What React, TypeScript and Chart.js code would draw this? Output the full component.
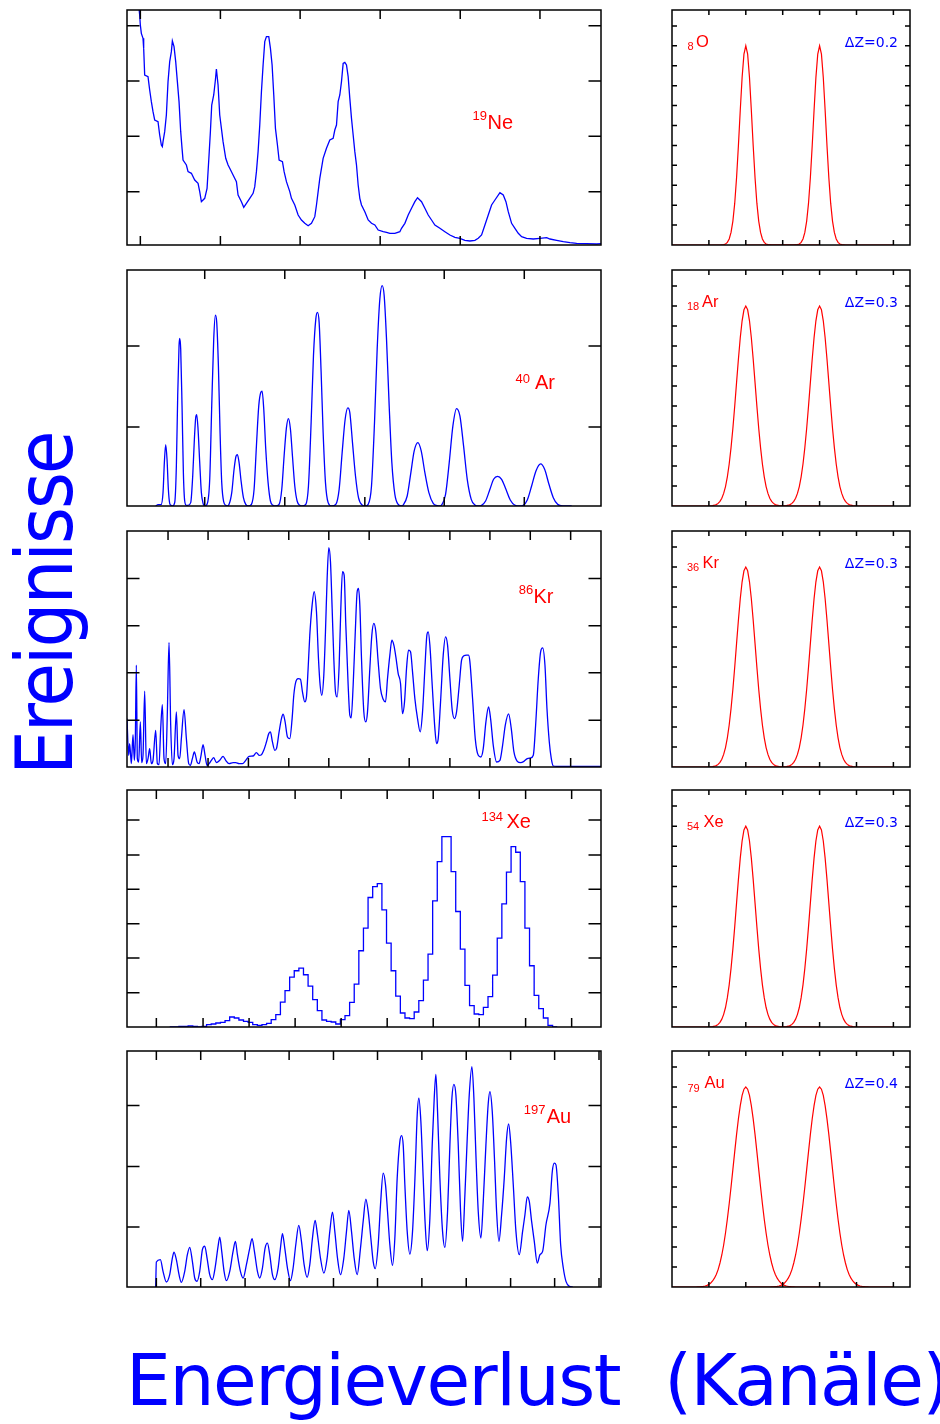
import React, { useEffect, useRef } from "react";
import { Chart, registerables } from "chart.js";

Chart.register(...registerables);

const BLUE = "#0000ff";
const RED = "#ff0000";
const SANS = '"Liberation Sans", Arial, sans-serif';

// ---------------- left spectra (channel, counts) ----------------
const neSpectrum: number[][] = [
  [55,740],[60,690],[62,660],[65,635],[70,620],[72,590],[75,510],[85,505],[90,465],[95,430],[100,400],[105,375],[115,370],[120,330],[125,300],[128,295],[130,310],[135,340],[140,390],[145,490],[150,550],[155,580],[158,612],[163,595],[168,550],[173,490],[178,430],[183,340],[187,290],[190,255],[200,240],[205,220],[215,215],[225,195],[235,185],[240,160],[245,130],[255,140],[262,170],[268,270],[272,340],[276,420],[282,450],[287,495],[290,528],[295,480],[300,390],[305,350],[310,310],[318,260],[325,240],[330,230],[340,210],[350,190],[355,150],[365,130],[372,113],[380,125],[390,140],[400,155],[405,175],[410,220],[415,280],[420,360],[425,460],[430,540],[435,610],[440,625],[447,625],[452,590],[457,540],[462,450],[467,350],[473,300],[478,255],[488,250],[493,220],[500,190],[510,160],[515,140],[525,120],[535,90],[545,75],[555,65],[565,58],[575,65],[585,85],[590,120],[595,160],[600,200],[610,260],[620,290],[630,315],[640,320],[645,345],[650,360],[655,430],[660,450],[665,490],[670,545],[675,548],[680,540],[685,505],[690,440],[695,380],[700,330],[705,280],[710,240],[715,180],[720,140],[725,120],[735,100],[745,75],[755,65],[765,60],[775,45],[790,40],[800,38],[810,35],[825,35],[840,40],[845,50],[855,65],[865,90],[875,110],[885,130],[893,142],[905,130],[915,110],[925,90],[935,75],[945,60],[960,50],[975,40],[990,30],[1005,23],[1020,20],[1035,14],[1050,12],[1065,14],[1075,20],[1085,30],[1095,60],[1105,90],[1115,120],[1125,135],[1140,157],[1150,150],[1158,130],[1165,100],[1175,65],[1185,50],[1195,35],[1205,25],[1220,20],[1240,18],[1260,20],[1280,22],[1290,18],[1310,14],[1330,10],[1350,7],[1370,5],[1400,4],[1430,3],[1443,4]
];
const neXTicks = [62, 302, 541, 781, 1021, 1260];
const neYTicks = [160, 326, 492, 658];

const arSpectrum: number[][] = [
  [108,0],[115,4],[124,4],[130,40],[134,130],[138,184],[142,140],[146,50],[150,8],[154,2],[158,0],
  [165,10],[170,120],[174,330],[178,480],[180,502],[183,470],[187,300],[191,100],[195,15],[200,2],[205,2],
  [213,10],[219,90],[224,200],[228,265],[231,274],[235,230],[240,130],[245,40],[250,8],[255,0],
  [262,5],[270,80],[276,300],[282,500],[287,572],[291,550],[296,420],[301,220],[306,70],[312,12],[318,2],[322,0],
  [328,5],[336,40],[343,110],[349,150],[353,154],[358,130],[364,75],[371,25],[378,5],[386,0],
  [395,5],[403,50],[410,180],[417,300],[423,340],[427,344],[432,290],[438,170],[445,70],[452,15],[460,2],[467,0],
  [478,5],[486,50],[493,150],[500,235],[506,262],[512,230],[518,150],[525,60],[532,15],[540,2],[547,0],
  [558,5],[566,60],[574,250],[581,450],[588,560],[593,580],[598,550],[604,400],[610,220],[617,70],[625,10],[635,0],
  [648,5],[658,50],[667,160],[676,260],[684,294],[690,280],[698,190],[707,90],[716,25],[727,3],[737,0],
  [745,5],[755,60],[764,250],[772,470],[780,620],[787,660],[793,630],[800,500],[808,300],[816,130],[825,35],[835,5],[845,0],
  [850,3],[862,30],[873,100],[883,165],[894,190],[904,165],[915,100],[927,40],[940,8],[952,1],[960,0],
  [965,3],[977,35],[988,130],[999,240],[1010,292],[1020,270],[1031,180],[1042,80],[1054,20],[1065,3],[1075,0],
  [1085,2],[1097,15],[1110,50],[1121,80],[1133,89],[1145,80],[1158,50],[1171,18],[1184,3],[1200,0],
  [1210,2],[1222,18],[1235,60],[1248,105],[1262,126],[1274,110],[1287,65],[1300,25],[1313,5],[1328,0],[1355,0]
];
const arXTicks = [255, 495, 735, 973, 1213];
const arYTicks = [237, 479];

const krSpectrum: number[][] = [
  [22,145],[27,35],[30,70],[35,10],[40,97],[44,20],[47,85],[50,305],[53,25],[57,15],[62,135],[66,13],[70,35],[75,227],[80,10],[85,25],[90,55],[95,10],[100,20],[108,110],[113,10],[118,7],[123,115],[128,187],[133,25],[138,10],[143,165],[148,373],[153,125],[158,7],[163,25],[170,165],[175,35],[180,25],[185,85],[193,172],[200,85],[207,10],[212,5],[218,25],[224,45],[232,15],[238,10],[244,35],[250,67],[256,35],[262,5],[268,10],[275,20],[282,28],[290,13],[300,20],[310,32],[318,20],[328,10],[340,13],[348,13],[358,10],[368,10],[378,20],[388,32],[400,33],[410,43],[418,35],[425,37],[432,50],[440,75],[447,100],[452,105],[458,75],[465,50],[470,55],[478,105],[485,145],[490,158],[496,135],[503,90],[510,85],[517,145],[522,215],[528,255],[535,265],[542,263],[548,225],[555,195],[560,210],[565,295],[570,395],[577,485],[583,525],[590,465],[596,325],[601,245],[606,215],[612,275],[617,405],[622,565],[627,657],[632,615],[637,475],[642,325],[647,225],[652,210],[658,305],[663,475],[668,585],[673,575],[678,425],[685,245],[690,155],[694,147],[700,245],[706,395],[712,525],[716,535],[720,485],[725,325],[732,165],[738,135],[743,165],[750,295],[756,395],[762,430],[768,405],[775,315],[782,235],[790,203],[797,195],[803,265],[810,335],[816,380],[822,365],[828,330],[835,280],[842,250],[848,160],[854,195],[860,295],[866,350],[872,345],[878,285],[885,205],[893,145],[901,105],[908,165],[915,295],[921,395],[925,405],[930,365],[937,245],[945,115],[950,70],[955,85],[962,195],[970,335],[977,390],[983,365],[990,265],[997,170],[1004,145],[1010,165],[1018,245],[1025,320],[1032,333],[1040,335],[1046,335],[1050,315],[1058,205],[1066,85],[1075,35],[1083,30],[1090,55],[1098,135],[1106,180],[1112,145],[1120,65],[1130,15],[1140,20],[1148,65],[1156,125],[1166,159],[1174,115],[1182,45],[1192,17],[1202,13],[1212,17],[1222,25],[1232,27],[1240,35],[1247,125],[1255,265],[1262,345],[1268,357],[1275,305],[1281,175],[1288,75],[1294,25],[1300,3],[1310,2],[1443,2]
];
const krXTicks = [145, 265, 386, 507, 627, 748, 868, 990, 1110, 1231, 1352];
const krYTicks = [140, 282, 423, 565];

const xeBinStart = 150;
const xeBinWidth = 13.83;
const xeCounts = [
  0,0,2,2,3,2,0,2,7,9,12,14,19,30,27,21,17,14,7,5,7,11,22,37,75,109,150,169,177,157,123,82,49,21,17,15,9,22,34,74,129,229,297,389,422,431,352,252,169,93,42,27,25,45,79,141,219,379,497,572,572,467,347,234,125,64,39,37,59,91,156,267,370,465,542,525,437,297,184,95,55,27,5,0
];
const xeXTicks = [110, 250, 388, 526, 664, 802, 940, 1078, 1217, 1355];
const xeYTicks = [103, 207, 310, 414, 517, 622];

const auSpectrum: number[][] = [
  [108,0],[110,75],[122,82],[130,47],[140,15],[150,37],[158,87],[163,105],[170,82],[178,37],[185,14],[195,47],[203,97],[210,119],[218,77],[225,27],[232,17],[240,47],[248,112],[255,123],[262,87],[270,37],[278,22],[286,57],[295,122],[300,150],[306,107],[313,47],[320,19],[330,47],[340,107],[347,137],[353,97],[362,47],[370,27],[380,67],[390,117],[397,145],[404,107],[413,47],[420,27],[428,57],[436,117],[443,132],[450,97],[458,37],[465,22],[475,57],[482,117],[488,160],[495,117],[503,57],[512,19],[520,57],[528,127],[537,185],[545,137],[553,67],[562,29],[570,67],[578,147],[586,200],[593,157],[602,87],[612,42],[622,87],[630,167],[638,225],[645,167],[653,87],[662,37],[672,87],[680,167],[687,230],[695,167],[703,87],[712,37],[722,117],[730,197],[738,264],[745,227],[753,147],[760,77],[766,55],[775,127],[782,247],[790,342],[797,307],[803,227],[810,127],[818,65],[825,147],[832,327],[840,437],[845,455],[850,427],[855,307],[862,167],[870,99],[878,167],[886,347],[892,517],[897,567],[903,497],[910,327],[916,187],[922,109],[930,207],[937,427],[943,567],[948,639],[953,527],[960,327],[968,167],[975,119],[983,227],[990,427],[996,567],[1002,609],[1008,577],[1015,427],[1022,227],[1028,137],[1035,277],[1042,447],[1048,577],[1056,662],[1062,567],[1068,397],[1075,227],[1083,147],[1090,257],[1098,427],[1105,552],[1110,587],[1117,527],[1124,377],[1130,227],[1137,137],[1145,217],[1153,327],[1160,447],[1166,490],[1172,437],[1180,307],[1188,167],[1198,97],[1208,167],[1215,217],[1222,271],[1228,257],[1235,197],[1243,137],[1252,72],[1260,97],[1268,107],[1278,187],[1290,252],[1297,347],[1303,372],[1308,367],[1315,277],[1322,127],[1330,57],[1338,17],[1348,2],[1358,0]
];
const auXTicks = [110, 243, 376, 508, 641, 773, 906, 1039, 1172, 1304, 1437];
const auYTicks = [180, 362, 545];

// ---------------- right panels: peak profiles (offset step 0.05 Z) ----------------
const profileStep = 0.05;
const profileDZ02 = [10, 9.58, 8.41, 6.77, 5.0, 3.39, 2.1, 1.2, 0.63, 0.3, 0.13, 0.05, 0.02, 0.01, 0];
const profileDZ03 = [10, 9.81, 9.26, 8.41, 7.35, 6.18, 5.0, 3.89, 2.92, 2.1, 1.46, 0.97, 0.63, 0.39, 0.23, 0.13, 0.07, 0.04, 0.02, 0.01, 0];
const profileDZ04 = [10, 9.89, 9.58, 9.07, 8.41, 7.63, 6.77, 5.88, 5.0, 4.16, 3.39, 2.7, 2.1, 1.6, 1.2, 0.87, 0.63, 0.44, 0.3, 0.2, 0.13, 0.08, 0.05, 0.03, 0.02, 0.01, 0.01, 0];
const peakCentres = [2, 4];
const zXTicks = [1, 2, 3, 4, 5, 6];
const zYTicks = [1, 2, 3, 4, 5, 6, 7, 8, 9, 10, 11];

const leftIsotopes = [
  { sup: "19", main: "Ne" },
  { sup: "40", main: "Ar" },
  { sup: "86", main: "Kr" },
  { sup: "134", main: "Xe" },
  { sup: "197", main: "Au" },
];
const rightElements = [
  { sub: "8", main: "O", dz: "ΔZ=0.2" },
  { sub: "18", main: "Ar", dz: "ΔZ=0.3" },
  { sub: "36", main: "Kr", dz: "ΔZ=0.3" },
  { sub: "54", main: "Xe", dz: "ΔZ=0.3" },
  { sub: "79", main: "Au", dz: "ΔZ=0.4" },
];
const rightProfiles = [profileDZ02, profileDZ03, profileDZ03, profileDZ03, profileDZ04];

// ---------------- layout ----------------
const LEFT_X = 127;
const LEFT_W = 474;
const RIGHT_X = 672;
const RIGHT_W = 238;
const ROW_TOP = [10, 270, 531, 790, 1051];
const ROW_H = [235, 236, 236, 237, 236];
const PAD = 2;

type TextSpec = { text: string; font: string; color: string; dx: number; dy: number; align?: CanvasTextAlign };
type PanelSpec = {
  left: number; top: number; width: number; height: number;
  xMin: number; xMax: number; yMin: number; yMax: number;
  xTicks: number[]; yTicks: number[]; xLen: number; yLen: number;
  datasets: any[]; texts: TextSpec[];
};

const toPoints = (pairs: number[][]) => pairs.map(([x, y]) => ({ x, y }));
const histPoints = (start: number, width: number, counts: number[]) => {
  const pts = counts.map((c, k) => ({ x: start + k * width, y: c }));
  pts.push({ x: start + counts.length * width, y: 0 });
  return pts;
};
const peakPoints = (profile: number[], centre: number) => {
  const pts: { x: number; y: number }[] = [];
  const n = 40;
  for (let i = -n; i <= n; i++) {
    const v = profile[Math.abs(i)] ?? 0;
    pts.push({ x: +(centre + i * profileStep).toFixed(3), y: v });
  }
  return pts;
};

const blueLine = (data: any[], extra: any = {}) => ({
  data, borderColor: BLUE, borderWidth: 1.3, pointRadius: 0, fill: false, ...extra,
});

const leftLabelPos = [
  { sx: 345.5, sy: 110.3, mx: 360.5, my: 119.3 },
  { sx: 388.4, sy: 113.3, mx: 408, my: 119.3 },
  { sx: 391.7, sy: 63.3, mx: 406.5, my: 72.3 },
  { sx: 354.4, sy: 31, mx: 379.5, my: 37.7 },
  { sx: 396.7, sy: 63, mx: 419.7, my: 72.3 },
];

const leftData = [
  { ds: blueLine(toPoints(neSpectrum)), xt: neXTicks, yt: neYTicks, yMax: 705 },
  { ds: blueLine(toPoints(arSpectrum), { cubicInterpolationMode: "monotone" }), xt: arXTicks, yt: arYTicks, yMax: 707 },
  { ds: blueLine(toPoints(krSpectrum), { cubicInterpolationMode: "monotone" }), xt: krXTicks, yt: krYTicks, yMax: 707 },
  { ds: blueLine(histPoints(xeBinStart, xeBinWidth, xeCounts), { stepped: true }), xt: xeXTicks, yt: xeYTicks, yMax: 712 },
  { ds: blueLine(toPoints(auSpectrum), { cubicInterpolationMode: "monotone" }), xt: auXTicks, yt: auYTicks, yMax: 709 },
];

const LEFT_SPECS: PanelSpec[] = leftData.map((d, r) => ({
  left: LEFT_X, top: ROW_TOP[r], width: LEFT_W, height: ROW_H[r],
  xMin: 22, xMax: 1443, yMin: 0, yMax: d.yMax,
  xTicks: d.xt, yTicks: d.yt, xLen: 9, yLen: 12.5,
  datasets: [d.ds],
  texts: [
    { text: leftIsotopes[r].sup, font: `13px ${SANS}`, color: RED, dx: leftLabelPos[r].sx, dy: leftLabelPos[r].sy },
    { text: leftIsotopes[r].main, font: `20px ${SANS}`, color: RED, dx: leftLabelPos[r].mx, dy: leftLabelPos[r].my },
  ],
}));

const rightLabelPos = [
  { sx: 15.5, sy: 39.8, mx: 24, my: 36.6 },
  { sx: 15, sy: 40.3, mx: 30, my: 36.6 },
  { sx: 15, sy: 40.3, mx: 30.5, my: 36.6 },
  { sx: 15, sy: 40.3, mx: 31.5, my: 36.6 },
  { sx: 15.5, sy: 40.5, mx: 32.5, my: 37 },
];

const RIGHT_SPECS: PanelSpec[] = rightElements.map((el, r) => ({
  left: RIGHT_X, top: ROW_TOP[r], width: RIGHT_W, height: ROW_H[r],
  xMin: 0, xMax: 6.45, yMin: 0, yMax: 11.8,
  xTicks: zXTicks, yTicks: zYTicks, xLen: 5, yLen: 5,
  datasets: peakCentres.map((c) => ({
    data: peakPoints(rightProfiles[r], c), borderColor: RED, borderWidth: 1.2, pointRadius: 0, fill: false,
  })),
  texts: [
    { text: el.sub, font: `11px ${SANS}`, color: RED, dx: rightLabelPos[r].sx, dy: rightLabelPos[r].sy },
    { text: el.main, font: `16.5px ${SANS}`, color: RED, dx: rightLabelPos[r].mx, dy: rightLabelPos[r].my },
    { text: el.dz, font: '14px "DejaVu Sans", sans-serif', color: BLUE, dx: 226, dy: 36.7, align: "right" },
  ],
}));

function ChartPanel({ spec }: { spec: PanelSpec }) {
  const ref = useRef<HTMLCanvasElement>(null);
  useEffect(() => {
    const framePlugin = {
      id: "frameTicks",
      afterDatasetsDraw(chart: any) {
        const { ctx, chartArea: a, scales } = chart;
        const x = scales.x, y = scales.y;
        ctx.save();
        ctx.strokeStyle = "#000";
        ctx.lineWidth = 1.5;
        ctx.strokeRect(a.left, a.top, a.right - a.left, a.bottom - a.top);
        ctx.beginPath();
        for (const v of spec.xTicks) {
          const px = x.getPixelForValue(v);
          ctx.moveTo(px, a.top); ctx.lineTo(px, a.top + spec.xLen);
          ctx.moveTo(px, a.bottom); ctx.lineTo(px, a.bottom - spec.xLen);
        }
        for (const v of spec.yTicks) {
          const py = y.getPixelForValue(v);
          ctx.moveTo(a.left, py); ctx.lineTo(a.left + spec.yLen, py);
          ctx.moveTo(a.right, py); ctx.lineTo(a.right - spec.yLen, py);
        }
        ctx.stroke();
        for (const t of spec.texts) {
          ctx.font = t.font;
          ctx.fillStyle = t.color;
          ctx.textAlign = t.align || "left";
          ctx.textBaseline = "alphabetic";
          ctx.fillText(t.text, a.left + t.dx, a.top + t.dy);
        }
        ctx.restore();
      },
    };
    const chart = new Chart(ref.current as HTMLCanvasElement, {
      type: "line",
      data: { datasets: spec.datasets },
      options: {
        responsive: false,
        animation: false,
        events: [],
        layout: { padding: PAD },
        plugins: { legend: { display: false }, tooltip: { enabled: false } },
        scales: {
          x: { type: "linear", min: spec.xMin, max: spec.xMax, display: false },
          y: { type: "linear", min: spec.yMin, max: spec.yMax, display: false },
        },
      } as any,
      plugins: [framePlugin as any],
    });
    return () => chart.destroy();
  }, [spec]);
  return (
    <canvas
      ref={ref}
      width={spec.width + 2 * PAD}
      height={spec.height + 2 * PAD}
      style={{ position: "absolute", left: spec.left - PAD, top: spec.top - PAD, width: spec.width + 2 * PAD, height: spec.height + 2 * PAD }}
    />
  );
}

const LABEL_FS = 71;
const LABEL_BASE = LABEL_FS * ((1 - 1.164) / 2 + 0.928);

export default function App() {
  const labelStyle: React.CSSProperties = {
    position: "absolute", left: 0, top: 0,
    fontFamily: '"DejaVu Sans", sans-serif',
    fontSize: LABEL_FS, lineHeight: `${LABEL_FS}px`,
    color: BLUE, whiteSpace: "nowrap", transformOrigin: "0 0",
  };
  return (
    <div style={{ position: "absolute", left: 0, top: 0, width: 940, height: 1424, overflow: "hidden", background: "#fff" }}>
      {LEFT_SPECS.map((s, i) => <ChartPanel key={"l" + i} spec={s} />)}
      {RIGHT_SPECS.map((s, i) => <ChartPanel key={"r" + i} spec={s} />)}
      <div style={{ ...labelStyle, letterSpacing: "-1.45px", wordSpacing: "23px", transform: `translate(126px, 1405px) translate(0px, ${-LABEL_BASE}px)` }}>
        Energieverlust (Kanäle)
      </div>
      <div style={{ ...labelStyle, letterSpacing: "-2.1px", transform: `translate(72px, 775px) rotate(-90deg) scaleY(1.1) translate(0px, ${-LABEL_BASE}px)` }}>
        Ereignisse
      </div>
    </div>
  );
}
